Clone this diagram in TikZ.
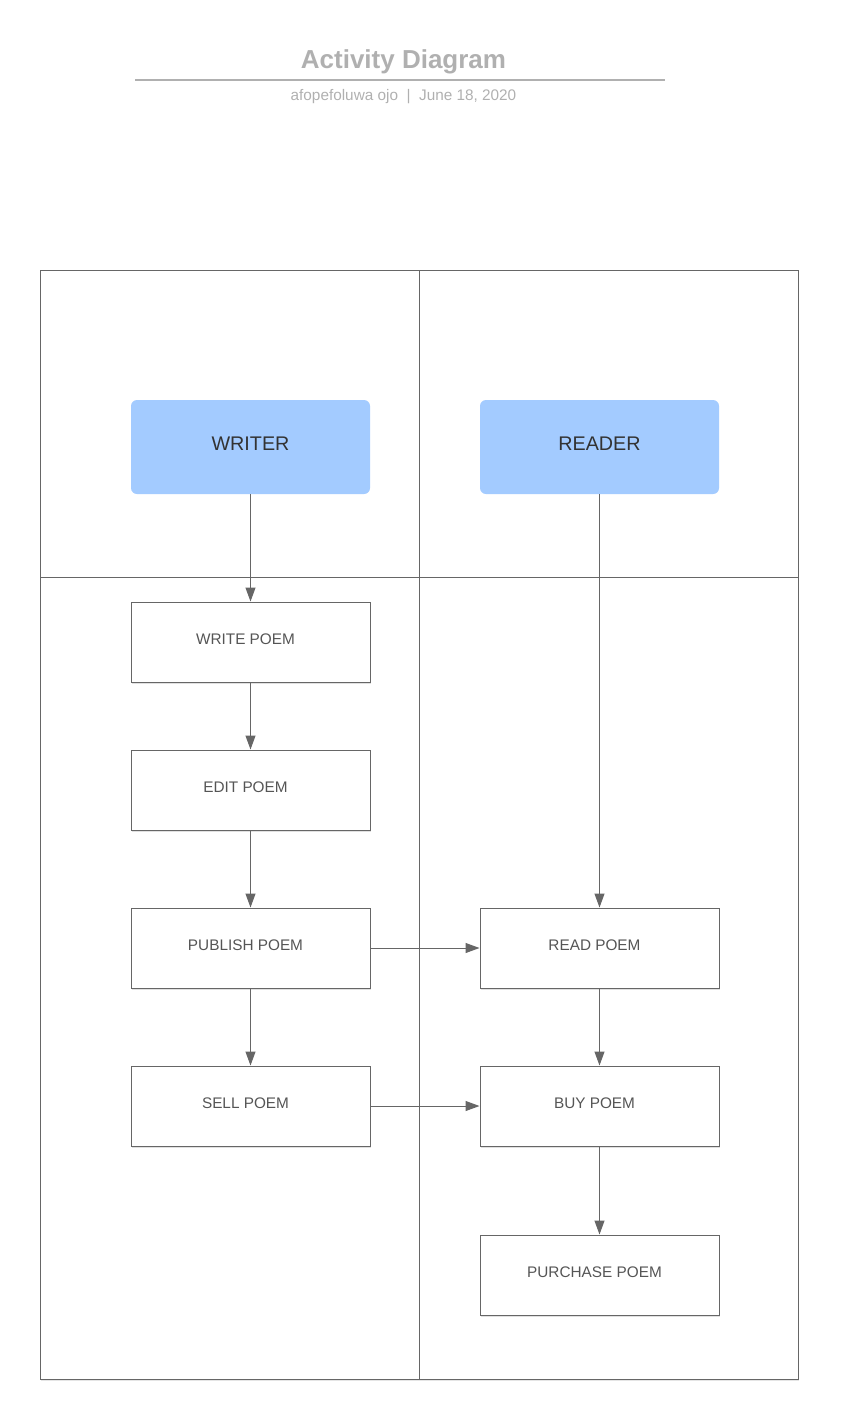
\documentclass[tikz,border=0pt]{standalone}
\usepackage{fontspec}
\setmainfont{Liberation Sans}
\usetikzlibrary{arrows.meta,shadows}
\definecolor{lanegray}{HTML}{666666}
\definecolor{titlegray}{HTML}{B0B0B0}
\definecolor{actorblue}{HTML}{A3CBFF}
\definecolor{boxtext}{HTML}{555555}

\begin{document}
\begin{tikzpicture}[x=0.75pt,y=-0.75pt,
    actorbox/.style={draw=none,fill=actorblue,rounded corners=4.5pt,
      minimum width=179.25pt,minimum height=70.5pt,inner sep=0pt,
      text depth=4.5pt,font=\fontsize{14.8}{17}\selectfont,text=black!80},
    actbox/.style={draw=lanegray,fill=white,line width=0.75pt,
      minimum width=179.25pt,minimum height=60pt,inner sep=0pt,
      text depth=4.5pt,font=\fontsize{11.5}{14}\selectfont,text=boxtext,
      execute at begin node={\hspace*{-7.5pt}},
      drop shadow={shadow xshift=0.75pt,shadow yshift=-1.5pt,
        opacity=0.12,fill=black}},
    flow/.style={draw=lanegray,line width=0.75pt,
      -{Triangle[length=10.5pt,width=7.5pt]}}]
    \useasboundingbox (0,0) rectangle (860,1421);

    % title
    \node[anchor=base,font=\bfseries\fontsize{19.5}{22}\selectfont,
      text=titlegray] (title) at (403.5,68) {Activity Diagram};
    \draw[titlegray,line width=1.5pt] (135,80) -- (665,80);
    \node[anchor=base,font=\fontsize{11.5}{14}\selectfont,text=titlegray]
      (author) at (403.5,100) {afopefoluwa ojo~~|~~June 18, 2020};

    % lanes
    \draw[lanegray,line width=0.75pt,fill=white,
      drop shadow={shadow xshift=0.75pt,shadow yshift=-1.5pt,
        opacity=0.1,fill=black}]
      (40,270) rectangle (798,1379);
    \draw[lanegray,line width=0.75pt] (419,270) -- (419,1379);
    \draw[lanegray,line width=0.75pt] (40,577) -- (798,577);

    % actors
    \node[actorbox] (writer) at (250.5,447) {WRITER};
    \node[actorbox] (reader) at (599.5,447) {READER};

    % activities
    \node[actbox] (write) at (250.5,642) {WRITE POEM};
    \node[actbox] (edit) at (250.5,790) {EDIT POEM};
    \node[actbox] (publish) at (250.5,948) {PUBLISH POEM};
    \node[actbox] (sell) at (250.5,1106) {SELL POEM};
    \node[actbox] (read) at (599.5,948) {READ POEM};
    \node[actbox] (buy) at (599.5,1106) {BUY POEM};
    \node[actbox] (purchase) at (599.5,1275) {PURCHASE POEM};

    \draw[flow] (writer) -- (write);
    \draw[flow] (write) -- (edit);
    \draw[flow] (edit) -- (publish);
    \draw[flow] (publish) -- (sell);
    \draw[flow] (reader) -- (read);
    \draw[flow] (publish) -- (read);
    \draw[flow] (sell) -- (buy);
    \draw[flow] (read) -- (buy);
    \draw[flow] (buy) -- (purchase);
\end{tikzpicture}
\end{document}
